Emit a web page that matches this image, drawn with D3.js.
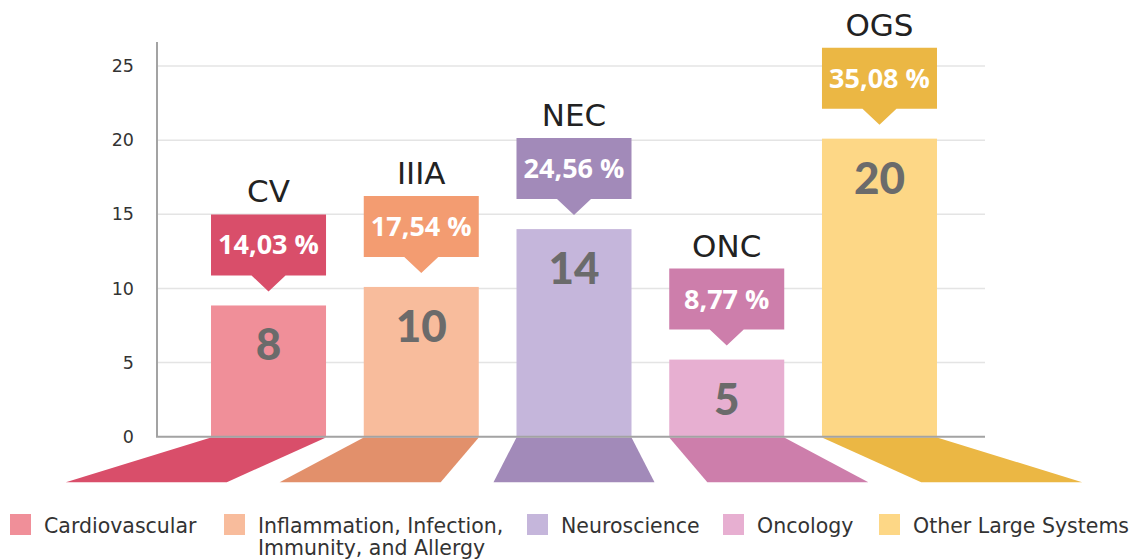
<!DOCTYPE html>
<html>
<head>
<meta charset="utf-8">
<style>
  html, body { margin: 0; padding: 0; background: #fff; }
  svg { display: block; }
</style>
<script src="https://d3js.org/d3.v7.min.js"></script>
</head>
<body>
<svg id="chart" width="1133" height="559"></svg>
<script>
// data
const codes = ["CV", "IIIA", "NEC", "ONC", "OGS"];
const names = ["Cardiovascular", "Inflammation, Infection,|Immunity, and Allergy", "Neuroscience", "Oncology", "Other Large Systems"];
const barHeights = [8.85, 10.1, 14, 5.2, 20.1];   // bar heights as drawn
const valueLabels = ["8", "10", "14", "5", "20"];
const shares = ["14,03 %", "17,54 %", "24,56 %", "8,77 %", "35,08 %"];
const yTicks = [0, 5, 10, 15, 20, 25];

const lightColors = ["#f08f99", "#f8bc9c", "#c5b6db", "#e7afd1", "#fdd786"];
const boxColors   = ["#d94e6a", "#f39c71", "#a28ab9", "#cd7eab", "#ebb744"];
const floorColors = ["#d94e6a", "#e2906b", "#a28ab9", "#cd7eab", "#ebb744"];

const svg = d3.select("#chart");
const font = "'DejaVu Sans', sans-serif";

const x = d3.scaleBand().domain(codes).range([160, 988]).paddingInner(0.247).paddingOuter(0.334);
const y = d3.scaleLinear().domain([0, 25]).range([436.7, 66]);
const axisLeft = 157, axisRight = 985;

// gridlines
svg.append("g").selectAll("line").data(yTicks.filter(t => t > 0)).join("line")
  .attr("x1", axisLeft).attr("x2", axisRight)
  .attr("y1", d => y(d)).attr("y2", d => y(d))
  .attr("stroke", "#e4e4e4").attr("stroke-width", 1.5);

// y axis labels
const yAxis = svg.append("g").attr("transform", `translate(${axisLeft},0)`)
  .call(d3.axisLeft(y).tickValues(yTicks).tickSize(0).tickPadding(23));
yAxis.select(".domain").remove();
yAxis.selectAll("text").attr("font-family", font).attr("font-size", 17.5).attr("fill", "#333");

const data = codes.map((c, i) => ({
  code: c, h: barHeights[i], label: valueLabels[i], share: shares[i],
  light: lightColors[i], box: boxColors[i], floor: floorColors[i]
}));

// perspective floor
const cx = (x.range()[0] + x.range()[1]) / 2;
const spread = 1.4;
const y0 = y(0);
svg.append("g").selectAll("path").data(data).join("path")
  .attr("d", d => {
    const l = x(d.code), r = l + x.bandwidth();
    const bl = cx + (l - cx) * spread, br = cx + (r - cx) * spread;
    return `M${l},${y0 + 0.8}L${r},${y0 + 0.8}L${br},${y0 + 45.5}L${bl},${y0 + 45.5}Z`;
  })
  .attr("fill", d => d.floor);

// bars
svg.append("g").selectAll("rect").data(data).join("rect")
  .attr("x", d => x(d.code)).attr("width", x.bandwidth())
  .attr("y", d => y(d.h)).attr("height", d => y0 - y(d.h))
  .attr("fill", d => d.light);

// axis lines
svg.append("path")
  .attr("d", `M${axisLeft},42V${y0}H${axisRight}`)
  .attr("fill", "none").attr("stroke", "#a3a3a3").attr("stroke-width", 2);

// value labels inside bars
svg.append("g").selectAll("text").data(data).join("text")
  .attr("x", d => x(d.code) + x.bandwidth() / 2)
  .attr("y", d => y(d.h) + 55)
  .attr("text-anchor", "middle")
  .attr("font-family", "Lato, sans-serif").attr("font-weight", 900).attr("font-size", 44)
  .attr("fill", "#6b6b6b")
  .text(d => d.label);

// share callouts
const call = svg.append("g").selectAll("g").data(data).join("g");
call.append("path")
  .attr("d", d => {
    const l = x(d.code), w = x.bandwidth(), m = l + w / 2;
    const bottom = y(d.h) - 30, top = bottom - 61;
    return `M${l},${top}H${l + w}V${bottom}H${m + 17}L${m},${bottom + 16}L${m - 17},${bottom}H${l}Z`;
  })
  .attr("fill", d => d.box);
call.append("text")
  .attr("x", d => x(d.code) + x.bandwidth() / 2)
  .attr("y", d => y(d.h) - 91 + 40)
  .attr("text-anchor", "middle")
  .attr("font-family", "'Open Sans', sans-serif").attr("font-weight", 700).attr("font-size", 27)
  .attr("fill", "#fff")
  .text(d => d.share);
call.append("text")
  .attr("x", d => x(d.code) + x.bandwidth() / 2)
  .attr("y", d => y(d.h) - 91 - 12)
  .attr("text-anchor", "middle")
  .attr("font-family", font).attr("font-size", 31)
  .attr("fill", "#222")
  .text(d => d.code);

// legend
const legendX = [10, 224, 527, 723, 879];
const legend = svg.append("g").selectAll("g").data(data).join("g")
  .attr("transform", (d, i) => `translate(${legendX[i]},514)`);
legend.append("rect").attr("width", 21).attr("height", 21).attr("fill", d => d.light);
legend.append("text")
  .attr("x", 34).attr("y", 19)
  .attr("font-family", font).attr("font-size", 20.5).attr("fill", "#333")
  .each(function(d, i) {
    const lines = names[i].split("|");
    d3.select(this).selectAll("tspan").data(lines).join("tspan")
      .attr("x", 34).attr("dy", (l, j) => j === 0 ? 0 : 22)
      .text(l => l);
  });
</script>
</body>
</html>
